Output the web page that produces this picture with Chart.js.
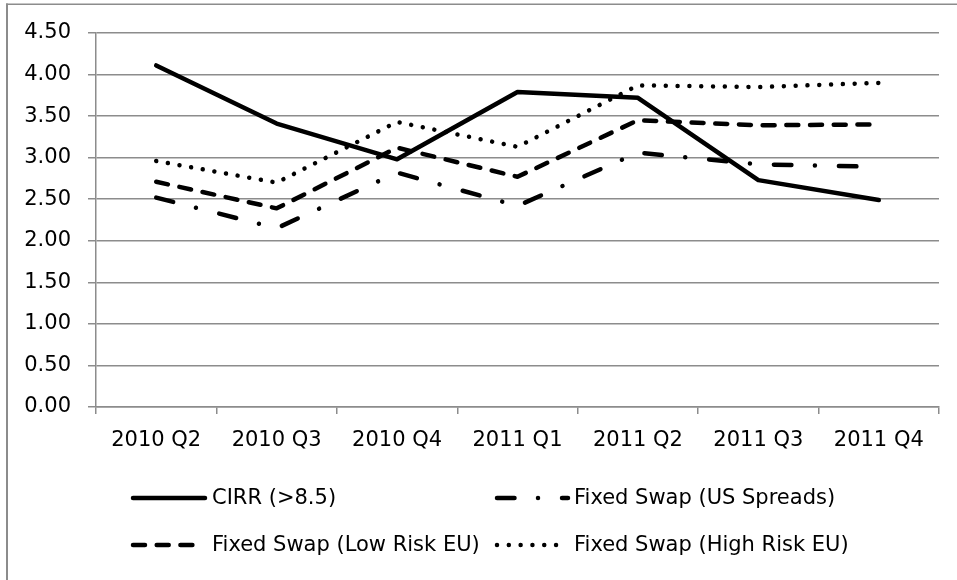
<!DOCTYPE html>
<html>
<head>
<meta charset="utf-8">
<script src="https://cdn.jsdelivr.net/npm/chart.js@4/dist/chart.umd.min.js"></script>
<style>
  html, body { margin: 0; padding: 0; background: #ffffff; }
  #wrap { width: 957px; height: 580px; position: relative; }
</style>
</head>
<body>
<div id="wrap"><canvas id="c" width="957" height="580"></canvas></div>
<script>
// ---- data ----
const categories = ['2010 Q2', '2010 Q3', '2010 Q4', '2011 Q1', '2011 Q2', '2011 Q3', '2011 Q4'];
const seriesNames = ['CIRR (>8.5)', 'Fixed Swap (US Spreads)', 'Fixed Swap (Low Risk EU)', 'Fixed Swap (High Risk EU)'];
const cirr      = [4.11, 3.41, 2.98, 3.79, 3.72, 2.73, 2.49];
const usSpreads = [2.52, 2.15, 2.82, 2.42, 3.06, 2.92, 2.89];
const lowRiskEU = [2.71, 2.39, 3.12, 2.77, 3.45, 3.39, 3.40];
const highRiskEU = [2.96, 2.70, 3.43, 3.13, 3.87, 3.85, 3.90];
const yTicks = [0, 0.5, 1, 1.5, 2, 2.5, 3, 3.5, 4, 4.5];

const FONT = '"DejaVu Sans", sans-serif';
const GRID = '#8c8c8c';

const styles = [
  { dash: [] },
  { dash: [17.5, 23.5, 0.01, 24] },
  { dash: [12, 11.7] },
  { dash: [0.01, 11.8] }
];
const values = [cirr, usSpreads, lowRiskEU, highRiskEU];

const datasets = values.map((v, i) => ({
  label: seriesNames[i],
  data: v,
  borderColor: '#000000',
  backgroundColor: '#000000',
  borderWidth: 4.5,
  borderDash: styles[i].dash,
  borderCapStyle: 'round',
  borderJoinStyle: 'round',
  pointRadius: 0,
  pointHoverRadius: 0,
  tension: 0,
  fill: false
}));

const frameAndLegend = {
  id: 'frameAndLegend',
  beforeDraw(chart) {
    const ctx = chart.ctx;
    ctx.save();
    ctx.fillStyle = '#ffffff';
    ctx.fillRect(0, 0, chart.width, chart.height);
    ctx.fillStyle = GRID;
    ctx.fillRect(6, 3.5, chart.width - 6, 1.5);
    ctx.fillRect(6, 3.5, 2, chart.height);
    ctx.restore();
  },
  afterDraw(chart) {
    const ctx = chart.ctx;
    const cells = [
      { x0: 133, x1: 205, tx: 212, y: 498 },
      { x0: 497, x1: 568, tx: 574, y: 498 },
      { x0: 133, x1: 197, tx: 212, y: 545 },
      { x0: 497, x1: 562, tx: 574, y: 545 }
    ];
    ctx.save();
    chart.data.datasets.forEach((ds, i) => {
      const c = cells[i];
      ctx.beginPath();
      ctx.strokeStyle = ds.borderColor;
      ctx.lineWidth = ds.borderWidth;
      ctx.lineCap = ds.borderCapStyle;
      ctx.setLineDash(ds.borderDash || []);
      ctx.moveTo(c.x0, c.y);
      ctx.lineTo(c.x1, c.y);
      ctx.stroke();
      ctx.setLineDash([]);
      ctx.fillStyle = '#000000';
      ctx.font = '21px ' + FONT;
      ctx.textBaseline = 'middle';
      ctx.textAlign = 'left';
      ctx.fillText(ds.label, c.tx, c.y + 1);
    });
    ctx.restore();
  }
};

new Chart(document.getElementById('c'), {
  type: 'line',
  data: { labels: categories, datasets: datasets },
  plugins: [frameAndLegend],
  options: {
    responsive: false,
    animation: false,
    events: [],
    layout: { padding: { left: 0, top: 33, right: 18, bottom: 113 } },
    plugins: {
      legend: { display: false },
      tooltip: { enabled: false },
      title: { display: false }
    },
    scales: {
      x: {
        type: 'category',
        offset: true,
        grid: {
          offset: true,
          drawOnChartArea: false,
          drawTicks: true,
          tickLength: 7,
          color: GRID,
          lineWidth: 1.5
        },
        border: { display: true, color: GRID, width: 1.5 },
        ticks: {
          color: '#000000',
          font: { family: FONT, size: 21 },
          padding: 14,
          maxRotation: 0,
          autoSkip: false
        },
        afterFit(scale) { scale.height = 60; }
      },
      y: {
        min: 0,
        max: 4.5,
        afterBuildTicks(scale) { scale.ticks = yTicks.map(v => ({ value: v })); },
        grid: {
          color: GRID,
          lineWidth: 1.5,
          drawTicks: true,
          tickLength: 8
        },
        border: { display: true, color: GRID, width: 1.5 },
        ticks: {
          color: '#000000',
          font: { family: FONT, size: 21 },
          padding: 17,
          callback: (v) => Number(v).toFixed(2)
        },
        afterFit(scale) { scale.width = 96; }
      }
    }
  }
});
</script>
</body>
</html>
